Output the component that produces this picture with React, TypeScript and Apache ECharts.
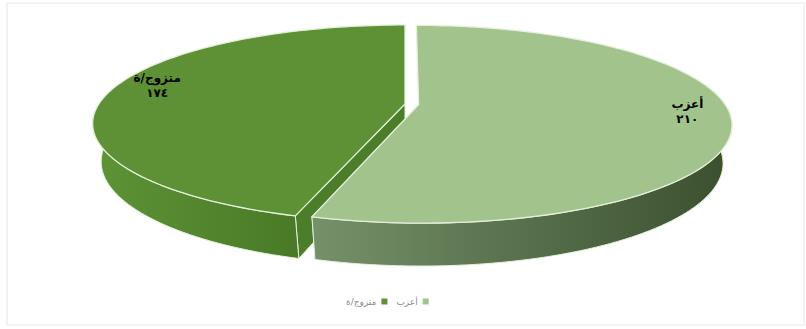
import React, { useEffect, useRef } from "react";
import * as echarts from "echarts";

// ---- data ----
const categories: string[] = ["أعزب", "متزوج/ة"];
const values: number[] = [210, 174];
const legendOrder: string[] = ["متزوج/ة", "أعزب"];

// ---- styles / layout (not data) ----
const topColors = ["#a2c38c", "#5e9135"];
const wallStops = [
  ["#75916a", "#3c502f"],
  ["#5d9236", "#4a7a27"],
];
const cutColors = ["#6f8a5f", "#4c7d2a"];
// simple perspective camera for the 3D pie
const CX = 405;
const CY = 104;
const K = 0.5; // sin(elevation)
const C = 0.866; // cos(elevation)
const DIST = 4.37;
const FX = 1338;
const FY = 828;
const H = 0.236; // pie thickness
const EXPLODE = [0.045, 0];
const LABEL_ANGLE_SHIFT = [-3.5, 4.8];
const LABEL_R = [0.866, 0.864];

const toArabicDigits = (n: number) =>
  String(n).replace(/[0-9]/g, (d) => "٠١٢٣٤٥٦٧٨٩"[Number(d)]);

const rad = (a: number) => (a * Math.PI) / 180;

function project(X: number, Z: number, Y: number): number[] {
  const d = DIST - (Y * K + Z * C);
  return [CX + (FX * X) / d, CY + (FY * (Z * K - Y * C)) / d];
}

function buildSlice(i: number, value: number) {
  const total = values.reduce((s, v) => s + v, 0);
  let a0 = 0;
  for (let k = 0; k < i; k++) a0 += (values[k] / total) * 360;
  const a1 = a0 + (value / total) * 360;
  const mid = (a0 + a1) / 2;
  const ex = EXPLODE[i];
  const ox = ex * Math.sin(rad(mid));
  const oz = -ex * Math.cos(rad(mid));
  const P = (a: number, r = 1, y = 0): number[] =>
    project(ox + r * Math.sin(rad(a)), oz - r * Math.cos(rad(a)), y);
  const arc = (from: number, to: number, y: number) => {
    const n = Math.max(2, Math.ceil(Math.abs(to - from) / 1.5));
    const pts: number[][] = [];
    for (let k = 0; k <= n; k++) pts.push(P(from + ((to - from) * k) / n, 1, y));
    return pts;
  };
  const pale = "#e3f0da";
  const children: any[] = [];
  // radial cut faces, only those turned toward the viewer (front half)
  for (const a of [a0, a1]) {
    if (Math.cos(rad(a)) >= 0) continue;
    children.push({
      type: "polygon",
      shape: { points: [P(a, 0, 0), P(a, 1, 0), P(a, 1, -H), P(a, 0, -H)] },
      style: { fill: cutColors[i], stroke: pale, lineWidth: 1 },
    });
  }
  const w0 = Math.max(a0, 90);
  const w1 = Math.min(a1, 270);
  if (w1 > w0) {
    const xs = [P(w0)[0], P(w1)[0]];
    const xl = Math.min(xs[0], xs[1]);
    const xr = Math.max(xs[0], xs[1]);
    children.push({
      type: "polygon",
      shape: { points: [...arc(w0, w1, 0), ...arc(w1, w0, -H)] },
      style: {
        fill: new echarts.graphic.LinearGradient(
          xl, 0, xr, 0,
          [
            { offset: 0, color: wallStops[i][0] },
            { offset: 1, color: wallStops[i][1] },
          ],
          true
        ),
        stroke: pale,
        lineWidth: 1,
      },
    });
  }
  children.push({
    type: "polygon",
    shape: { points: [P(a0, 0, 0), ...arc(a0, a1, 0)] },
    style: { fill: topColors[i], stroke: pale, lineWidth: 1.3 },
  });
  const lp = P(mid + LABEL_ANGLE_SHIFT[i], LABEL_R[i], 0);
  children.push({
    type: "text",
    style: {
      text: categories[i] + "\n" + toArabicDigits(value),
      x: lp[0],
      y: lp[1],
      align: "center",
      verticalAlign: "middle",
      fill: "#000000",
      font: 'bold 12px "DejaVu Sans"',
      lineHeight: 15,
    },
  });
  return { type: "group", children };
}

export default function App() {
  const ref = useRef<HTMLDivElement>(null);
  useEffect(() => {
    if (!ref.current) return;
    const chart = echarts.init(ref.current, undefined, { renderer: "svg" });
    // draw the dark slice first so the exploded light slice sits above its cut face
    const drawOrder = [1, 0];
    chart.setOption({
      animation: false,
      backgroundColor: "#ffffff",
      graphic: [
        {
          type: "rect",
          shape: { x: 7, y: 3, width: 797, height: 322 },
          style: { fill: "none", stroke: "#e6e6e6", lineWidth: 1 },
          silent: true,
        },
      ],
      legend: {
        data: legendOrder,
        left: 341,
        top: 292,
        icon: "rect",
        itemWidth: 6,
        itemHeight: 6,
        itemGap: 9,
        align: "right",
        textStyle: { fontSize: 9, color: "#8a8a8a", fontFamily: "DejaVu Sans" },
      },
      series: drawOrder.map((i) => ({
        type: "custom",
        name: categories[i],
        coordinateSystem: "none",
        itemStyle: { color: topColors[i] },
        data: [values[i]],
        renderItem: (_params: any, api: any) => buildSlice(i, api.value(0)),
      })),
    });
    return () => chart.dispose();
  }, []);
  return (
    <div
      ref={ref}
      style={{ position: "fixed", left: 0, top: 0, width: 806, height: 329 }}
    />
  );
}
